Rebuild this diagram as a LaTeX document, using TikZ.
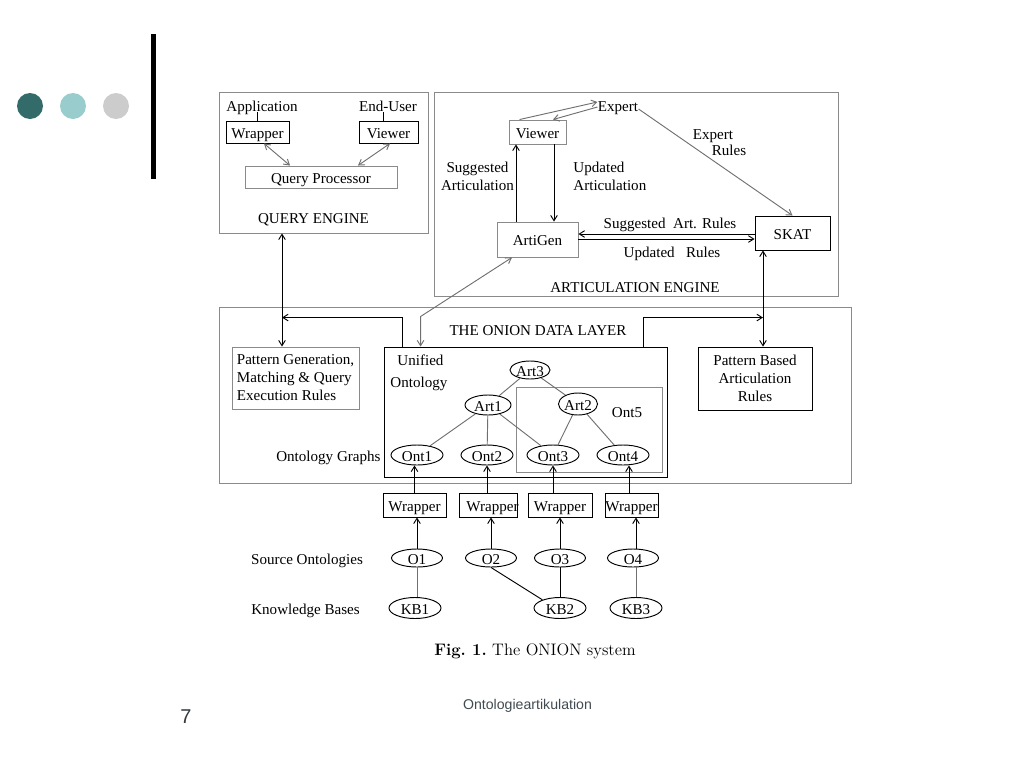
\documentclass[tikz,border=0pt]{standalone}
\usepackage{fontspec}
\newfontfamily\tfont{Liberation Serif}
\newfontfamily\sfont{Liberation Sans}
\usetikzlibrary{arrows.meta,calc,shapes.geometric}
\definecolor{dotA}{HTML}{336B6B}
\definecolor{dotB}{HTML}{99CCCC}
\definecolor{dotC}{HTML}{CCCCCC}
\definecolor{framegray}{HTML}{8A8A8A}
\definecolor{edgegray}{HTML}{707070}
\definecolor{foot}{HTML}{404A50}
\begin{document}
\begin{tikzpicture}[x=0.75pt,y=-0.75pt,line width=0.7pt,
  txt/.style={font=\tfont\fontsize{11.3}{13.5}\selectfont, inner sep=0pt},
  one/.style={text height=9.2pt, text depth=0pt},
  sz/.style 2 args={minimum width=#1*0.75pt, minimum height=#2*0.75pt},
  bx/.style={draw, rectangle, txt},
  gbx/.style={bx, draw=framegray},
  frame/.style={draw=framegray, rectangle, inner sep=0pt},
  el/.style={draw, ellipse, txt, one},
  arr/.style={-{Straight Barb[length=4pt,width=5pt]}},
  darr/.style={{Straight Barb[length=4pt,width=5pt]}-{Straight Barb[length=4pt,width=5pt]}},
  tedge/.style={draw=edgegray}]
\useasboundingbox (0,0) rectangle (1024,768);
% slide decoration
\fill[dotA] (30,106) circle (13);
\fill[dotB] (73,106) circle (13);
\fill[dotC] (116,106) circle (13);
\draw[line width=3.4pt] (153.5,34) -- (153.5,179);
\node[font=\sfont\fontsize{15}{18}\selectfont, text=foot!80!black, inner sep=0pt] (pnum) at (186,717) {7};
\node[font=\sfont\fontsize{10.6}{12}\selectfont, text=foot, inner sep=0pt, anchor=base] (ftxt) at (527.5,709) {Ontologieartikulation};

% ---------- Query engine
\node[frame, sz={209}{141}] (qe) at (323.5,162.5) {};
\node[txt, one] (app) at (262,105) {Application};
\node[txt, one] (enduser) at (388,105) {End-User};
\node[bx, one, sz={63}{22}] (qwrap) at (257.5,132) {Wrapper};
\node[bx, one, sz={59}{22}] (qview) at (388.5,132) {Viewer};
\node[gbx, one, sz={152}{22}] (qp) at (321,177) {Query Processor};
\node[txt, one] (qelab) at (313.5,217) {QUERY ENGINE};
\draw (qwrap.north) -- (qwrap.north |- app.south);
\coordinate (eu) at ($(qview.north)+(-5.5,0)$);
\draw (eu) -- (eu |- enduser.south);
\draw[darr, draw=edgegray] ($(qwrap.south)+(6.5,0)$) -- ($(qp.north)+(-31,0)$);
\draw[darr, draw=edgegray] ($(qview.south)+(1.5,0)$) -- ($(qp.north)+(37,0)$);

% ---------- Articulation engine
\node[frame, sz={404}{204}] (ae) at (636,194) {};
\node[txt, one] (expert) at (618,105) {Expert};
\node[gbx, one, sz={57}{24}] (aview) at (537.5,132) {Viewer};
\node[gbx, one, sz={81}{35}] (artigen) at (537.5,239.5) {ArtiGen};
\node[bx, one, sz={75}{34}] (skat) at (792.5,233) {SKAT};
\node[txt, align=center] (sugart) at (477.5,176) {Suggested\\Articulation};
\node[txt, align=left, anchor=west] (updart) at (573,176) {Updated\\Articulation};
\node[txt, one] (exrA) at (713,133) {Expert};
\node[txt, one] (exrB) at (729,149) {Rules};
\node[txt, one] (sugrules) at (670,222) {Suggested\ \ Art. Rules};
\node[txt, one] (updrules) at (672,251) {Updated\ \ \ Rules};
\node[txt, one] (aelab) at (635,286) {ARTICULATION ENGINE};
\draw[arr, draw=edgegray] ($(aview.north west)+(11,0)$) -- ($(expert.west)+(0,-3)$);
\draw[arr, draw=edgegray] ($(expert.west)+(0,2)$) -- ($(aview.north)+(15.5,0)$);
\draw[arr, draw=edgegray] ($(expert.east)+(0,4)$) -- (skat.north);
\draw[arr] ($(artigen.north)+(-21.5,0)$) -- ($(aview.south)+(-21.5,0)$);
\draw[arr] ($(aview.south)+(16.5,0)$) -- ($(artigen.north)+(16.5,0)$);
\draw[arr] ($(skat.west)+(0,1)$) -- ($(artigen.east)+(0,-5.5)$);
\draw[arr] ($(artigen.east)+(0,-0.5)$) -- ($(skat.west)+(0,6)$);

% ---------- Onion data layer
\node[frame, sz={632}{176}] (onion) at (535,395) {};
\node[txt, one] (onlab) at (538,329) {THE ONION DATA LAYER};
\node[gbx, sz={127}{62}, align=left] (pg) at (295.5,378) {Pattern Generation,\\Matching \& Query\\Execution Rules};
\node[bx, sz={114}{63}, align=center] (pb) at (755,378.5) {Pattern Based\\Articulation\\Rules};
\node[bx, sz={283}{130}] (uo) at (525.5,412) {};
\node[txt, one, anchor=west] (uni) at (397,359) {Unified};
\node[txt, one, anchor=west] (ontl) at (390,381) {Ontology};
\node[txt, one, anchor=east] (ograph) at (381,455) {Ontology Graphs};
\node[frame, sz={146}{85}] (ont5b) at (589,429.5) {};
\node[txt, one] (ont5) at (627,411) {Ont5};
\node[el, sz={40}{18}] (art3) at (530,370) {Art3};
\node[el, sz={46}{20}] (art1) at (488,405) {Art1};
\node[el, sz={38}{22}] (art2) at (578,404) {Art2};
\node[el, sz={52}{20}] (ont1) at (417,455) {Ont1};
\node[el, sz={52}{20}] (ont2) at (487,455) {Ont2};
\node[el, sz={52}{20}] (ont3) at (553,455) {Ont3};
\node[el, sz={52}{20}] (ont4) at (623,455) {Ont4};
\draw[tedge] (art3) -- (art1);
\draw[tedge] (art3) -- (art2);
\draw[tedge] (art1) -- (ont1);
\draw[tedge] (art1) -- (ont2);
\draw[tedge] (art1) -- (ont3);
\draw[tedge] (art2) -- (ont3);
\draw[tedge] (art2) -- (ont4);

% connectors between layers
\coordinate (qa) at ($(qe.south)+(-41.5,0)$);
\draw[darr] (qa) -- (qa |- pg.north);
\coordinate (uoL) at ($(uo.north west)+(19,0)$);
\coordinate (uoLt) at ($(uoL)+(0,-29)$);
\draw[arr] (uoL) -- (uoLt) -- (uoLt -| qa);
\coordinate (uoA) at ($(uo.north west)+(37,0)$);
\draw[darr, draw=edgegray] (uoA) -- ++(0,-30) -- ($(artigen.south)+(-25.5,0)$);
\coordinate (sk) at ($(skat.south)+(-29.5,0)$);
\draw[darr] (sk) -- (sk |- pb.north);
\coordinate (uoR) at ($(uo.north east)+(-24,0)$);
\coordinate (uoRt) at ($(uoR)+(0,-29)$);
\draw[arr] (uoR) -- (uoRt) -- (uoRt -| sk);

% ---------- sources
\node[bx, one, sz={63}{24}] (w1) at (414.5,505) {Wrapper};
\node[bx, sz={58}{24}] (w2) at (488,505) {};
\node[txt, one] (w2t) at (492.5,505) {Wrapper};
\node[bx, one, sz={64}{24}] (w3) at (560,505) {Wrapper};
\node[bx, one, sz={53}{24}] (w4) at (631.5,505) {Wrapper};
\node[el, sz={51}{18}] (o1) at (417,558) {O1};
\node[el, sz={51}{18}] (o2) at (491,558) {O2};
\node[el, sz={51}{18}] (o3) at (560,558) {O3};
\node[el, sz={51}{18}] (o4) at (633,558) {O4};
\node[el, sz={52}{21}] (kb1) at (415,608) {KB1};
\node[el, sz={52}{21}] (kb2) at (560,608) {KB2};
\node[el, sz={52}{21}] (kb3) at (636,608) {KB3};
\node[txt, one] (srcl) at (307,558) {Source Ontologies};
\node[txt, one] (kbl) at (305.5,608) {Knowledge Bases};
\draw[arr] (w1.north) -- (w1.north |- ont1.south);
\draw[arr] (ont2.south |- w2.north) -- (ont2.south);
\draw[arr] (ont3.south |- w3.north) -- (ont3.south);
\draw[arr] ($(w4.north)+(-2.5,0)$) -- ($(w4.north |- ont4.south)+(-2.5,0)$);
\draw[arr] (o1.north) -- (o1.north |- w1.south);
\draw[arr] (o2.north) -- (o2.north |- w2.south);
\draw[arr] (o3.north) -- (o3.north |- w3.south);
\draw[arr] (kb3.north |- o4.north) -- (kb3.north |- w4.south);
\draw[edgegray] (o1.south) -- (o1.south |- kb1.north);
\draw (o3.south) -- (kb2.north);
\draw (o2.south) -- (kb2.155);
\draw[edgegray] (kb3.north |- o4.south) -- (kb3.north);

% caption
\node[font=\fontsize{12.5}{15}\selectfont, inner sep=0pt] (cap) at (535,651) {\textbf{Fig.\ 1.}\ The ONION system};
\end{tikzpicture}
\end{document}
